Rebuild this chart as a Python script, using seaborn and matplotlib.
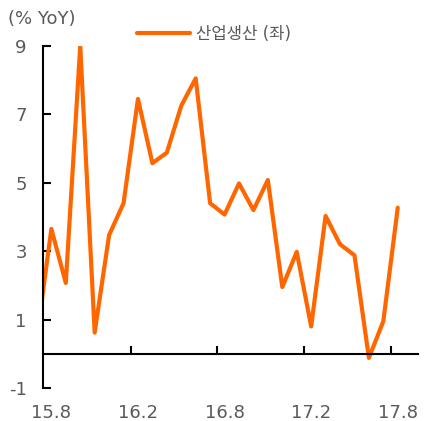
import numpy as np
import pandas as pd
import matplotlib
matplotlib.use("Agg")
import matplotlib.pyplot as plt
import seaborn as sns

# monthly industrial production, % YoY (15.7 ~ 17.8)
months = ["15.7", "15.8", "15.9", "15.10", "15.11", "15.12",
          "16.1", "16.2", "16.3", "16.4", "16.5", "16.6",
          "16.7", "16.8", "16.9", "16.10", "16.11", "16.12",
          "17.1", "17.2", "17.3", "17.4", "17.5", "17.6",
          "17.7", "17.8"]
values = [0.5, 3.65, 2.07, 9.0, 0.62, 3.47,
          4.4, 7.45, 5.57, 5.88, 7.25, 8.05,
          4.4, 4.07, 4.98, 4.2, 5.08, 1.95,
          2.98, 0.8, 4.03, 3.2, 2.88, -0.12,
          0.95, 4.27]
tick_labels = ["15.8", "16.2", "16.8", "17.2", "17.8"]
y_ticks = [-1, 1, 3, 5, 7, 9]
series_name = "산업생산 (좌)"

df = pd.DataFrame({"month": months, "value": values})
df["pos"] = np.arange(len(df)) - 1  # 15.8 sits at 0

sns.set_style("white")
plt.rcParams["font.family"] = ["DejaVu Sans", "Noto Sans CJK KR"]
plt.rcParams["axes.unicode_minus"] = False
grey = "#5a5a5a"

fig = plt.figure(figsize=(4.3, 4.21), dpi=100)
ax = fig.add_axes([0.101, 0.0784, 0.871, 0.8126])

sns.lineplot(data=df, x="pos", y="value", ax=ax, color="#ff6600",
             linewidth=3.0, label=series_name,
             solid_joinstyle="round", solid_capstyle="round")

ax.set_xlim(-0.55, 25.4)
ax.set_ylim(-1, 9)
ax.set_xlabel("")
ax.set_ylabel("")

# x ticks between months, labels under the month
lab_pos = [df.loc[df["month"] == m, "pos"].iloc[0] for m in tick_labels]
ax.set_xticks([p - 0.5 for p in lab_pos[1:]])
ax.set_xticklabels([])
ax.set_xticks(lab_pos, minor=True)
ax.set_xticklabels(tick_labels, minor=True)
ax.tick_params(axis="x", which="major", bottom=True, direction="in",
               length=6, width=1.5, color="black")
ax.tick_params(axis="x", which="minor", bottom=True, length=0, pad=36,
               labelsize=13, labelcolor=grey)

ax.set_yticks(y_ticks)
ax.tick_params(axis="y", left=True, direction="in", length=6, width=1.5,
               color="black", pad=12, labelsize=13, labelcolor=grey)

for s in ["top", "right"]:
    ax.spines[s].set_visible(False)
ax.spines["bottom"].set_position(("data", 0))
ax.spines["bottom"].set_linewidth(1.5)
ax.spines["left"].set_linewidth(1.5)
ax.spines["bottom"].set_color("black")
ax.spines["left"].set_color("black")

fig.text(0.018, 0.955, "(% YoY)", fontsize=13, color=grey, va="center")

ax.legend(loc="center left", bbox_to_anchor=(137 / 430, 1 - 34 / 421),
          bbox_transform=fig.transFigure, frameon=False, fontsize=12,
          handlelength=3.2, handletextpad=0.35, borderpad=0,
          borderaxespad=0, labelcolor=grey)

fig.savefig("out.png", dpi=100)
